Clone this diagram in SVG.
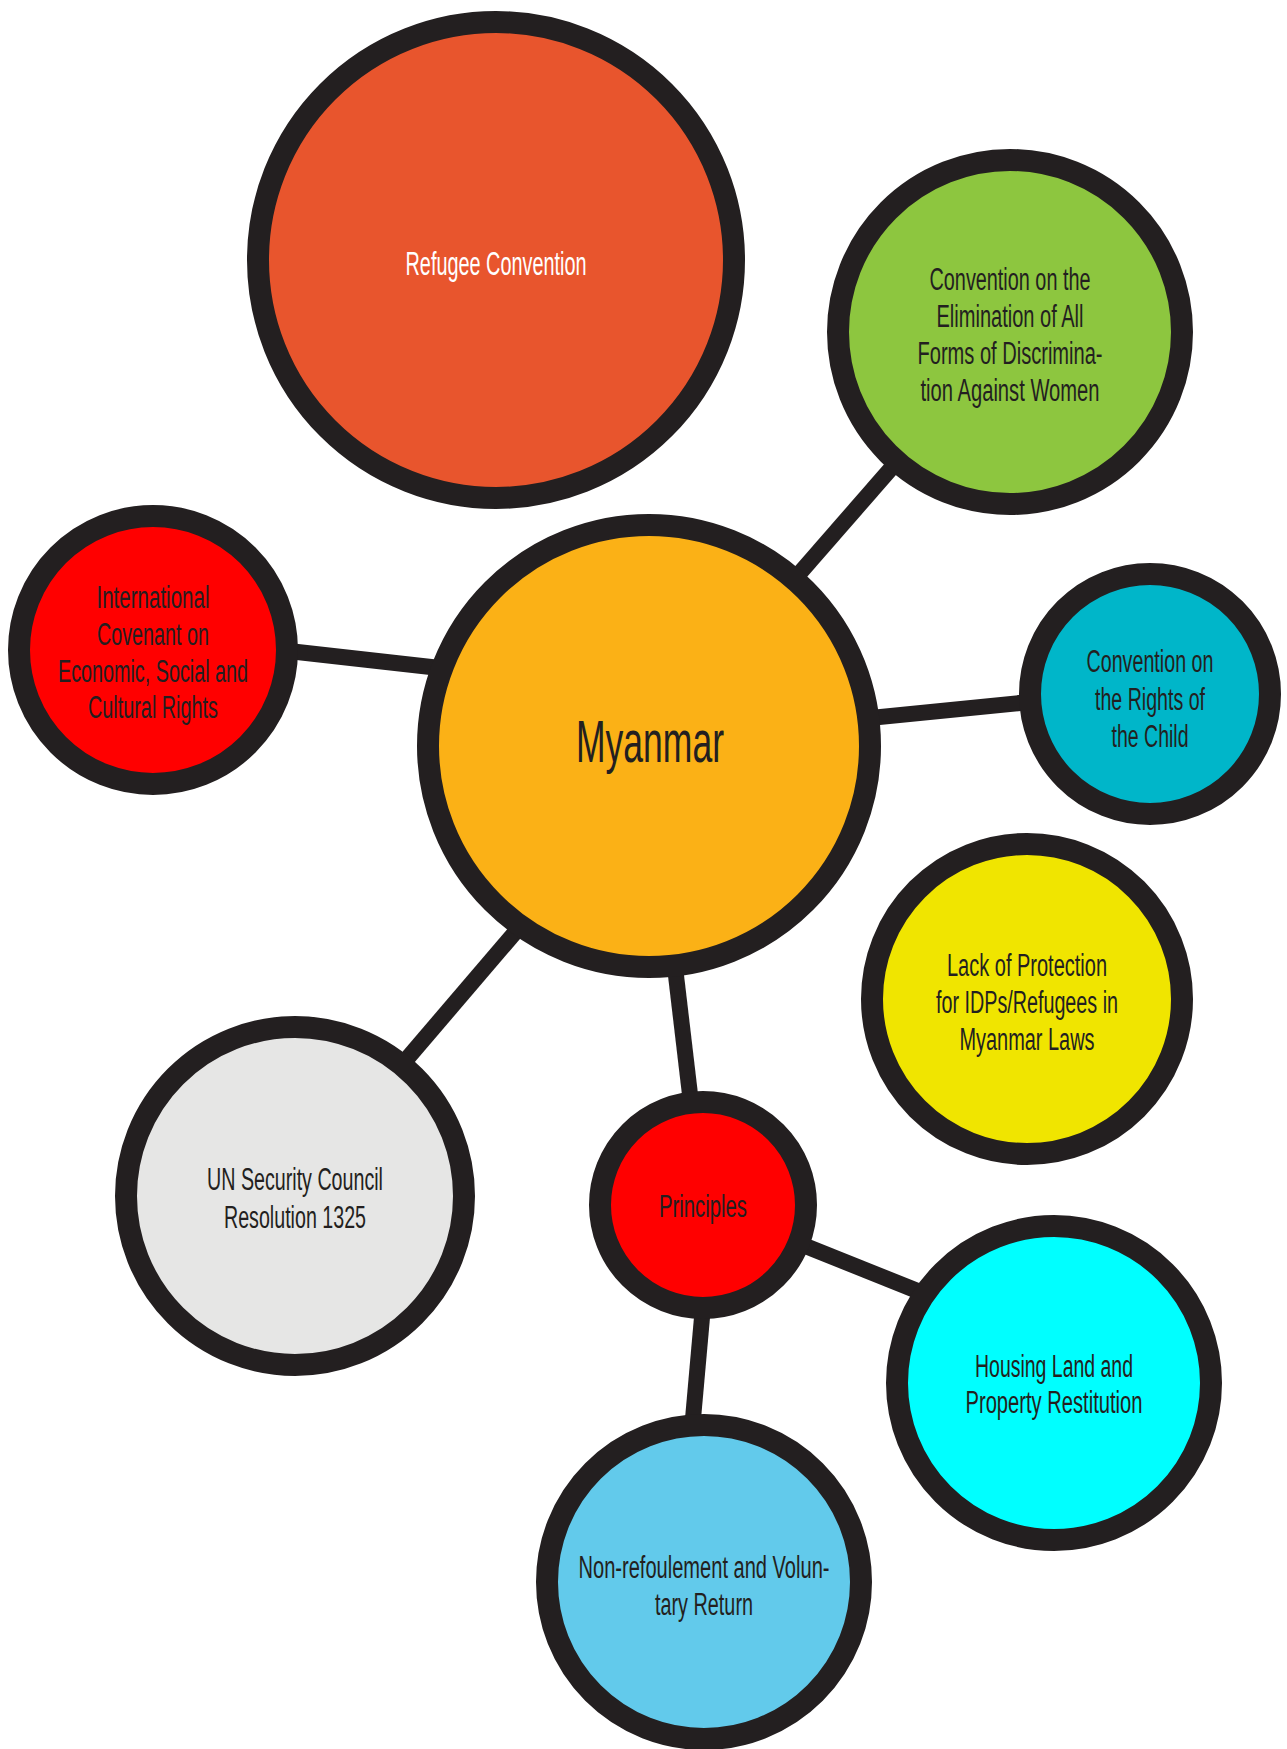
<svg xmlns="http://www.w3.org/2000/svg" width="1287" height="1749" viewBox="0 0 1287 1749">
<style>
.c{stroke:#231F20;stroke-width:22}
.l{stroke:#231F20;stroke-width:16;fill:none}
.t{font-family:"Liberation Sans",Arial,sans-serif;font-size:31px;fill:#231F20;text-anchor:middle}
.w{fill:#FFFFFF}
.big{font-size:60px}
.rc{font-size:34px}
</style>
<rect width="1287" height="1749" fill="#FFFFFF"/>
<g id="connectors">
<line class="l" x1="649" y1="746" x2="1010" y2="332"/>
<line class="l" x1="200" y1="641" x2="600" y2="686"/>
<line class="l" x1="700" y1="735" x2="1100" y2="695"/>
<line class="l" x1="300" y1="1184" x2="600" y2="833"/>
<line class="l" x1="649" y1="746" x2="703" y2="1205"/>
<line class="l" x1="703" y1="1205" x2="1000" y2="1324"/>
<line class="l" x1="712" y1="1205" x2="692" y2="1430"/>
</g>
<g id="refugee">
<circle class="c" cx="496" cy="260" r="238" fill="#E8552D"/>
<text class="t w rc" x="496" y="275" textLength="181" lengthAdjust="spacingAndGlyphs">Refugee Convention</text>
</g>
<g id="cedaw">
<circle class="c" cx="1010" cy="332" r="172" fill="#8DC63F"/>
<text class="t" x="1010" y="290" textLength="161" lengthAdjust="spacingAndGlyphs">Convention on the</text>
<text class="t" x="1010" y="327" textLength="147" lengthAdjust="spacingAndGlyphs">Elimination of All</text>
<text class="t" x="1010" y="364" textLength="185" lengthAdjust="spacingAndGlyphs">Forms of Discrimina-</text>
<text class="t" x="1010" y="401" textLength="179" lengthAdjust="spacingAndGlyphs">tion Against Women</text>
</g>
<g id="icescr">
<circle class="c" cx="153" cy="650" r="134" fill="#FF0000"/>
<text class="t" x="153" y="608" textLength="113" lengthAdjust="spacingAndGlyphs">International</text>
<text class="t" x="153" y="645" textLength="112" lengthAdjust="spacingAndGlyphs">Covenant on</text>
<text class="t" x="153" y="682" textLength="190" lengthAdjust="spacingAndGlyphs">Economic, Social and</text>
<text class="t" x="153" y="718" textLength="130" lengthAdjust="spacingAndGlyphs">Cultural Rights</text>
</g>
<g id="myanmar">
<circle class="c" cx="649" cy="746" r="221" fill="#FBB116"/>
<text class="t big" x="650" y="762" textLength="148" lengthAdjust="spacingAndGlyphs">Myanmar</text>
</g>
<g id="crc">
<circle class="c" cx="1150" cy="694" r="120" fill="#00B6C9"/>
<text class="t" x="1150" y="672" textLength="127" lengthAdjust="spacingAndGlyphs">Convention on</text>
<text class="t" x="1150" y="710" textLength="110" lengthAdjust="spacingAndGlyphs">the Rights of</text>
<text class="t" x="1150" y="747" textLength="77" lengthAdjust="spacingAndGlyphs">the Child</text>
</g>
<g id="lack">
<circle class="c" cx="1027" cy="999" r="155" fill="#F0E500"/>
<text class="t" x="1027" y="976" textLength="160" lengthAdjust="spacingAndGlyphs">Lack of Protection</text>
<text class="t" x="1027" y="1013" textLength="182" lengthAdjust="spacingAndGlyphs">for IDPs/Refugees in</text>
<text class="t" x="1027" y="1050" textLength="135" lengthAdjust="spacingAndGlyphs">Myanmar Laws</text>
</g>
<g id="unscr">
<circle class="c" cx="295" cy="1196" r="169" fill="#E6E6E5"/>
<text class="t" x="295" y="1190" textLength="176" lengthAdjust="spacingAndGlyphs">UN Security Council</text>
<text class="t" x="295" y="1228" textLength="142" lengthAdjust="spacingAndGlyphs">Resolution 1325</text>
</g>
<g id="principles">
<circle class="c" cx="703" cy="1205" r="103" fill="#FF0000"/>
<text class="t" x="703" y="1217" textLength="88" lengthAdjust="spacingAndGlyphs">Principles</text>
</g>
<g id="housing">
<circle class="c" cx="1054" cy="1383" r="157" fill="#00FFFF"/>
<text class="t" x="1054" y="1377" textLength="158" lengthAdjust="spacingAndGlyphs">Housing Land and</text>
<text class="t" x="1054" y="1413" textLength="177" lengthAdjust="spacingAndGlyphs">Property Restitution</text>
</g>
<g id="nonref">
<circle class="c" cx="704" cy="1582" r="157" fill="#62CAEB"/>
<text class="t" x="704" y="1578" textLength="251" lengthAdjust="spacingAndGlyphs">Non-refoulement and Volun-</text>
<text class="t" x="704" y="1615" textLength="98" lengthAdjust="spacingAndGlyphs">tary Return</text>
</g>
</svg>
